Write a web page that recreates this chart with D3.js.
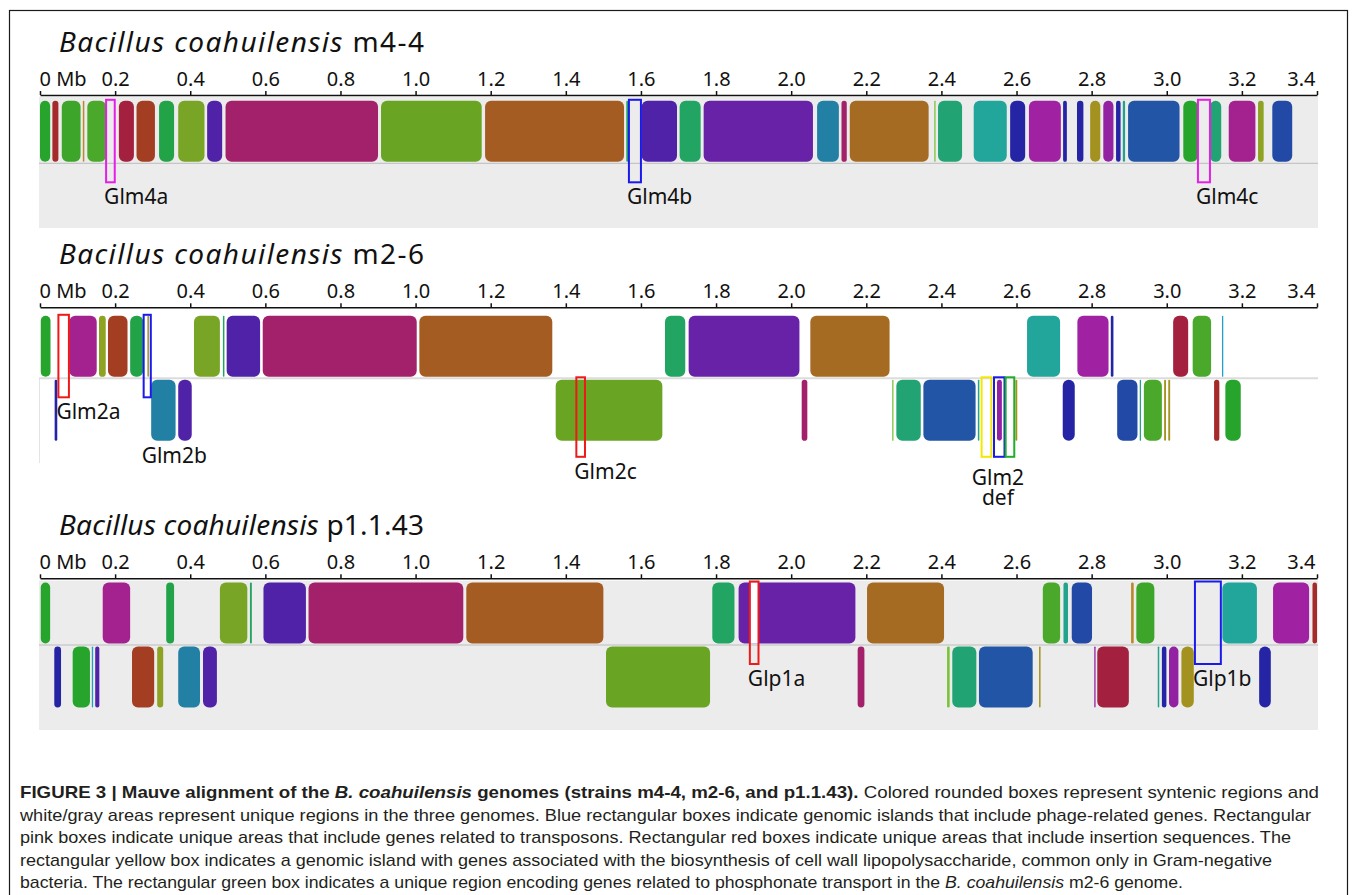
<!DOCTYPE html>
<html>
<head>
<meta charset="utf-8">
<script src="https://cdn.jsdelivr.net/npm/d3@7"></script>
<style>
  body { margin: 0; background: #fff; }
  svg { display: block; }
</style>
</head>
<body>
<svg id="fig" width="1357" height="895"></svg>
<script>
// ---- Data -------------------------------------------------------------
// Genome coordinate ticks (Mb)
const tickMb = [0, 0.2, 0.4, 0.6, 0.8, 1.0, 1.2, 1.4, 1.6, 1.8, 2.0, 2.2, 2.4, 2.6, 2.8, 3.0, 3.2, 3.4];

const genomeIds = ['m44', 'm26', 'p1'];
const strainNames = ['m4-4', 'm2-6', 'p1.1.43'];

// Locally collinear blocks: [start Mb, end Mb, strand row (0 = forward, 1 = reverse), LCB colour key]
const m44Blocks = [
  [0.000, 0.027, 0, 'grn'], [0.033, 0.049, 0, 'red'], [0.058, 0.108, 0, 'grn2'],
  [0.114, 0.118, 0, 'gold'], [0.126, 0.176, 0, 'grn3'], [0.210, 0.250, 0, 'crim'],
  [0.257, 0.306, 0, 'rust'], [0.317, 0.357, 0, 'emer'], [0.368, 0.438, 0, 'oliv'],
  [0.445, 0.485, 0, 'indi'], [0.494, 0.900, 0, 'mag'], [0.908, 1.176, 0, 'lime'],
  [1.185, 1.555, 0, 'brown'], [1.561, 1.567, 0, 'sea'], [1.602, 1.696, 0, 'indi'],
  [1.703, 1.759, 0, 'sea'], [1.767, 2.058, 0, 'purp'], [2.069, 2.127, 0, 'cyan'],
  [2.134, 2.148, 0, 'mag'], [2.156, 2.366, 0, 'ochre'], [2.381, 2.384, 0, 'lgrn'],
  [2.391, 2.455, 0, 'spring'], [2.486, 2.574, 0, 'teal'], [2.583, 2.623, 0, 'navy'],
  [2.633, 2.718, 0, 'violet'], [2.724, 2.734, 0, 'navy'], [2.761, 2.778, 0, 'navy'],
  [2.796, 2.823, 0, 'khaki'], [2.831, 2.858, 0, 'plum'], [2.865, 2.877, 0, 'navy'],
  [2.883, 2.889, 0, 'aqua'], [2.897, 3.034, 0, 'blue'], [3.044, 3.083, 0, 'grn'],
  [3.115, 3.145, 0, 'spring'], [3.165, 3.236, 0, 'pink'], [3.243, 3.258, 0, 'yel'],
  [3.281, 3.334, 0, 'blue2']
];

const m26Blocks = [
  [0.002, 0.028, 0, 'grn'], [0.078, 0.151, 0, 'pink'], [0.157, 0.175, 0, 'yel'],
  [0.181, 0.233, 0, 'rust'], [0.240, 0.275, 0, 'emer'], [0.286, 0.290, 0, 'khaki'],
  [0.410, 0.479, 0, 'oliv'], [0.487, 0.491, 0, 'sea'], [0.497, 0.586, 0, 'indi'],
  [0.593, 1.003, 0, 'mag'], [1.010, 1.364, 0, 'brown'], [1.664, 1.718, 0, 'sea'],
  [1.727, 2.022, 0, 'purp'], [2.051, 2.262, 0, 'ochre'], [2.628, 2.716, 0, 'teal'],
  [2.762, 2.845, 0, 'violet'], [2.851, 2.858, 0, 'navy'], [3.017, 3.057, 0, 'crim'],
  [3.069, 3.118, 0, 'grn3'], [3.147, 3.150, 0, 'sky'],
  [0.039, 0.046, 1, 'navy'], [0.296, 0.361, 1, 'cyan'], [0.368, 0.404, 1, 'indi'],
  [1.373, 1.657, 1, 'lime'], [2.028, 2.043, 1, 'mag'], [2.269, 2.272, 1, 'lgrn'],
  [2.280, 2.345, 1, 'spring'], [2.352, 2.491, 1, 'blue'], [2.497, 2.501, 1, 'aqua'],
  [2.548, 2.561, 1, 'plum'], [2.597, 2.602, 1, 'khaki'], [2.723, 2.755, 1, 'navy'],
  [2.868, 2.922, 1, 'blue2'], [2.928, 2.931, 1, 'aqua'], [2.939, 2.987, 1, 'grn3'],
  [2.993, 2.998, 1, 'khaki'], [3.004, 3.009, 1, 'khaki'], [3.126, 3.140, 1, 'red'],
  [3.156, 3.197, 1, 'grn']
];

const p1Blocks = [
  [0.002, 0.027, 0, 'grn'], [0.167, 0.240, 0, 'pink'], [0.336, 0.357, 0, 'emer'],
  [0.479, 0.552, 0, 'oliv'], [0.559, 0.564, 0, 'sea'], [0.595, 0.708, 0, 'indi'],
  [0.715, 1.127, 0, 'mag'], [1.135, 1.500, 0, 'brown'], [1.790, 1.849, 0, 'sea'],
  [1.860, 2.171, 0, 'purp'], [2.202, 2.407, 0, 'ochre'], [2.670, 2.716, 0, 'grn3'],
  [2.725, 2.737, 0, 'aqua'], [2.747, 2.801, 0, 'blue2'], [2.905, 2.912, 0, 'gold'],
  [2.919, 2.967, 0, 'grn2'], [3.148, 3.240, 0, 'teal'], [3.283, 3.379, 0, 'violet'],
  [3.388, 3.400, 0, 'red'],
  [0.038, 0.056, 1, 'navy'], [0.087, 0.133, 1, 'grn'], [0.138, 0.141, 1, 'sky'],
  [0.147, 0.158, 1, 'indi'], [0.245, 0.304, 1, 'rust'], [0.312, 0.328, 1, 'yel'],
  [0.368, 0.426, 1, 'cyan'], [0.434, 0.471, 1, 'indi'], [1.507, 1.784, 1, 'lime'],
  [2.177, 2.195, 1, 'mag'], [2.415, 2.422, 1, 'lgrn'], [2.429, 2.493, 1, 'spring'],
  [2.500, 2.643, 1, 'blue'], [2.660, 2.664, 1, 'khaki'], [2.807, 2.810, 1, 'plum'],
  [2.815, 2.899, 1, 'crim'], [2.976, 2.980, 1, 'aqua'], [2.987, 2.999, 1, 'navy'],
  [3.006, 3.031, 1, 'plum'], [3.039, 3.072, 1, 'khaki'], [3.246, 3.277, 1, 'navy']
];

// Genomic islands: [genome, name, start Mb, end Mb, kind, band (0 upper / 1 lower), label placement]
const islands = [
  ['m44', 'Glm4a', 0.176, 0.199, 'transposon', 0, 'box'],
  ['m44', 'Glm4b', 1.568, 1.600, 'phage', 0, 'box'],
  ['m44', 'Glm4c', 3.083, 3.115, 'transposon', 0, 'box'],
  ['m26', 'Glm2a', 0.049, 0.077, 'insertion', 0, 'box'],
  ['m26', 'Glm2b', 0.276, 0.295, 'phage', 0, 'track'],
  ['m26', 'Glm2c', 1.428, 1.451, 'insertion', 1, 'box'],
  ['m26', 'Glm2d', 2.507, 2.533, 'lps', 1, null],
  ['m26', 'Glm2e', 2.540, 2.568, 'phage', 1, null],
  ['m26', 'Glm2f', 2.571, 2.594, 'phosphonate', 1, null],
  ['p1', 'Glp1a', 1.890, 1.913, 'insertion', 0, 'box'],
  ['p1', 'Glp1b', 3.075, 3.144, 'phage', 0, 'box']
];
// Shared label for the adjacent d/e/f islands
const groupLabels = [['m26', ['Glm2', 'def'], 2.507, 2.594]];
// Unaligned stretch inside the Glp1a island (forward row)
const clearedRegions = [['p1', 1.890, 1.913, 0]];

// Colours
const lcbColors = {
  grn: '#27a42b', red: '#a52a2a', grn2: '#3da52a', gold: '#b9892b', grn3: '#4aa82a',
  crim: '#a3203f', rust: '#a33e22', emer: '#22a348', oliv: '#79a526', indi: '#5022a8',
  mag: '#a3206b', lime: '#69a523', brown: '#a55c22', sea: '#22a462', purp: '#6722a8',
  cyan: '#2280a5', ochre: '#a56b22', lgrn: '#7ac33a', spring: '#22a374', teal: '#22a59b',
  navy: '#2424a5', violet: '#a022a3', khaki: '#a3921f', plum: '#9322a3', aqua: '#22a38c',
  blue: '#2255a5', blue2: '#2249a5', yel: '#8ea323', pink: '#a3228f', sky: '#22a0c8'
};
const islandColors = {
  transposon: '#e61ee6', phage: '#1a1aee', insertion: '#ee1a1a',
  lps: '#f4e800', phosphonate: '#20ae2a'
};

const captionLines = [
  [['FIGURE 3 | Mauve alignment of the ', 'b'], ['B. coahuilensis', 'bi'],
   [' genomes (strains m4-4, m2-6, and p1.1.43).', 'b'],
   [' Colored rounded boxes represent syntenic regions and', '']],
  [['white/gray areas represent unique regions in the three genomes. Blue rectangular boxes indicate genomic islands that include phage-related genes. Rectangular', '']],
  [['pink boxes indicate unique areas that include genes related to transposons. Rectangular red boxes indicate unique areas that include insertion sequences. The', '']],
  [['rectangular yellow box indicates a genomic island with genes associated with the biosynthesis of cell wall lipopolysaccharide, common only in Gram-negative', '']],
  [['bacteria. The rectangular green box indicates a unique region encoding genes related to phosphonate transport in the ', ''],
   ['B. coahuilensis', 'i'], [' m2-6 genome.', '']]
];

// ---- Layout -----------------------------------------------------------
const blocksById = { m44: m44Blocks, m26: m26Blocks, p1: p1Blocks };
const panels = {
  m44: { axisY: 95,    center: 163.3, shade: [97, 228],    mid: '#bcbcbc', midW: 1 },
  m26: { axisY: 307.3, center: 378.3, shade: null,         mid: '#dcdcdc', midW: 2, edge: 463 },
  p1:  { axisY: 578.3, center: 645,   shade: [580.7, 730], mid: '#bcbcbc', midW: 1 }
};
const rowH = 61;
const x = d3.scaleLinear().domain([0, 3.4]).range([40, 1317]);
const trackX = [39, 1318];
const chartFont = "'Noto Sans', 'DejaVu Sans', sans-serif";

const svg = d3.select('#fig');

// outer frame
svg.append('rect')
  .attr('x', 9.5).attr('y', 10.5).attr('width', 1338).attr('height', 900)
  .attr('fill', 'none').attr('stroke', '#1a1a1a').attr('stroke-width', 1.2);

genomeIds.forEach((gid, gi) => {
  const P = panels[gid];
  const g = svg.append('g');
  const topY = P.center - 1.5 - rowH;
  const botY = P.center + 1.5;

  // title
  const title = g.append('text')
    .attr('x', 59).attr('y', P.axisY - 43)
    .attr('font-family', chartFont).attr('font-size', 28).attr('fill', '#111')
    .attr('textLength', 365).attr('lengthAdjust', 'spacing');
  title.append('tspan').attr('font-style', 'italic').text('Bacillus coahuilensis');
  title.append('tspan').text(' ' + strainNames[gi]);

  // track background
  if (P.shade) {
    g.append('rect').attr('x', trackX[0]).attr('y', P.shade[0])
      .attr('width', trackX[1] - trackX[0]).attr('height', P.shade[1] - P.shade[0])
      .attr('fill', '#ececec');
  } else {
    g.append('line').attr('x1', trackX[0] + 0.5).attr('x2', trackX[0] + 0.5)
      .attr('y1', P.center).attr('y2', P.edge)
      .attr('stroke', '#e4e4e4').attr('stroke-width', 1);
  }
  // strand separator
  g.append('line').attr('x1', trackX[0]).attr('x2', trackX[1])
    .attr('y1', P.center).attr('y2', P.center)
    .attr('stroke', P.mid).attr('stroke-width', P.midW);

  // coordinate axis
  const axis = d3.axisTop(x).tickValues(tickMb).tickSizeInner(4).tickSizeOuter(0)
    .tickPadding(5).tickFormat((d, i) => i === 0 ? '0 Mb' : d3.format('.1f')(d));
  const ag = g.append('g').attr('transform', `translate(0,${P.axisY})`).call(axis);
  ag.attr('font-family', chartFont).attr('font-size', 20);
  ag.select('.domain').attr('stroke', '#111').attr('stroke-width', 1.5);
  ag.selectAll('.tick line').attr('stroke', '#111').attr('stroke-width', 1.5);
  ag.selectAll('.tick text').attr('fill', '#111');
  ag.selectAll('.tick text').filter((d, i) => i === 0).attr('text-anchor', 'start').attr('x', -1);
  ag.selectAll('.tick text').filter((d, i, n) => i === n.length - 1).attr('text-anchor', 'end').attr('x', -2);

  // LCB blocks
  g.selectAll('rect.lcb').data(blocksById[gid]).join('rect')
    .attr('class', 'lcb')
    .attr('x', d => x(d[0]))
    .attr('width', d => Math.max(1.3, x(d[1]) - x(d[0])))
    .attr('y', d => d[2] === 0 ? topY : botY)
    .attr('height', rowH)
    .attr('rx', d => Math.min(6, Math.max(1.3, x(d[1]) - x(d[0])) / 2))
    .attr('ry', d => Math.min(6, Math.max(1.3, x(d[1]) - x(d[0])) / 2))
    .attr('fill', d => lcbColors[d[3]]);

  // cleared stretches
  g.selectAll('rect.clear').data(clearedRegions.filter(c => c[0] === gid)).join('rect')
    .attr('class', 'clear')
    .attr('x', d => x(d[1])).attr('width', d => x(d[2]) - x(d[1]))
    .attr('y', d => d[3] === 0 ? topY : botY).attr('height', rowH)
    .attr('fill', '#fff');

  // island boxes
  const isl = islands.filter(d => d[0] === gid).map(d => {
    const y0 = d[5] === 0 ? topY - 1 : P.center - 1;
    const y1 = d[5] === 0 ? P.center + 19 : botY + rowH + 16;
    return { name: d[1], s: d[2], e: d[3], kind: d[4], y0, y1, lab: d[6] };
  });
  g.selectAll('rect.island').data(isl).join('rect')
    .attr('class', 'island')
    .attr('x', d => x(d.s)).attr('width', d => x(d.e) - x(d.s))
    .attr('y', d => d.y0).attr('height', d => d.y1 - d.y0)
    .attr('fill', 'none').attr('stroke', d => islandColors[d.kind]).attr('stroke-width', 2);

  g.selectAll('text.island-label').data(isl.filter(d => d.lab)).join('text')
    .attr('class', 'island-label')
    .attr('x', d => x(d.s) - 2)
    .attr('y', d => d.lab === 'box' ? d.y1 + 22 : botY + rowH + 22)
    .attr('font-family', chartFont).attr('font-size', 21).attr('fill', '#111')
    .text(d => d.name);

  groupLabels.filter(d => d[0] === gid).forEach(d => {
    const cx = (x(d[2]) + x(d[3])) / 2;
    const base = botY + rowH + 16 + 28;
    const t = g.append('text').attr('font-family', chartFont).attr('font-size', 21)
      .attr('fill', '#111').attr('text-anchor', 'middle');
    d[1].forEach((line, li) => {
      t.append('tspan').attr('x', cx).attr('y', base + li * 20).text(line);
    });
  });
});

// caption
const capLeft = 20;
const capRight = [1319, 1311, 1291, 1272, 1183];
const cap = svg.append('g')
  .attr('font-family', "'Liberation Sans', Arial, Helvetica, sans-serif")
  .attr('font-size', 17).attr('fill', '#231f20');
captionLines.forEach((parts, i) => {
  const t = cap.append('text').attr('x', capLeft).attr('y', 798 + i * 22.5)
    .attr('textLength', capRight[i] - capLeft).attr('lengthAdjust', 'spacingAndGlyphs');
  parts.forEach(([txt, st]) => {
    t.append('tspan')
      .attr('font-weight', st.includes('b') ? 'bold' : null)
      .attr('font-style', st.includes('i') ? 'italic' : null)
      .text(txt);
  });
});
</script>
</body>
</html>
